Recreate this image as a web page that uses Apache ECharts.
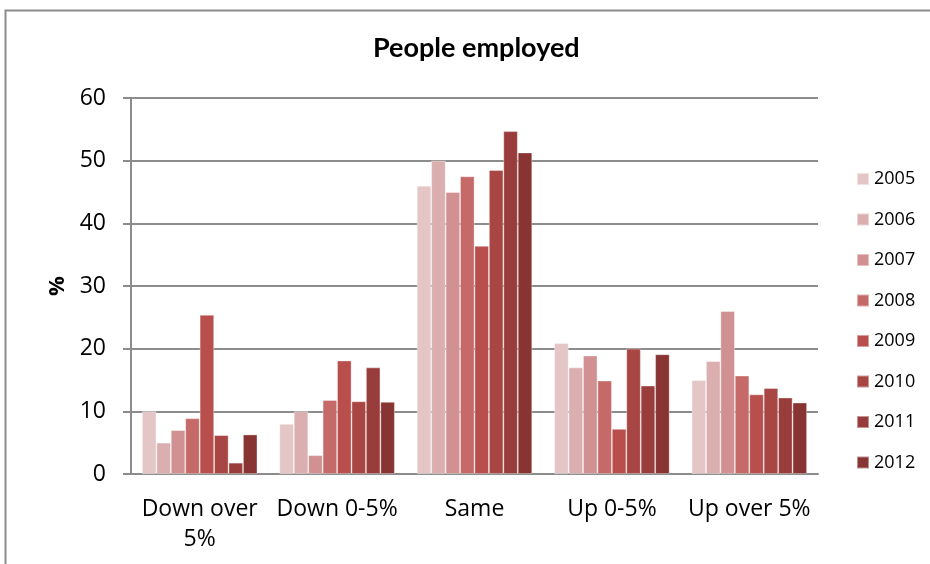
<!DOCTYPE html>
<html>
<head>
<meta charset="utf-8">
<script src="https://cdn.jsdelivr.net/npm/echarts@6/dist/echarts.min.js"></script>
<style>
  html, body { margin: 0; padding: 0; background: #fff; }
  #chart { width: 930px; height: 564px; }
</style>
</head>
<body>
<div id="chart"></div>
<script>
// Change categories on the x axis
const categories = ['Down over\n5%', 'Down 0-5%', 'Same', 'Up 0-5%', 'Up over 5%'];

// Share of respondents (%) per year
const y2005 = [10, 8, 46, 20.9, 15];
const y2006 = [5, 10, 50, 17, 18];
const y2007 = [7, 3, 45, 18.9, 26];
const y2008 = [8.9, 11.8, 47.5, 14.9, 15.7];
const y2009 = [25.4, 18.1, 36.4, 7.2, 12.7];
const y2010 = [6.2, 11.6, 48.5, 20, 13.7];
const y2011 = [1.8, 17, 54.7, 14.1, 12.2];
const y2012 = [6.3, 11.5, 51.3, 19.1, 11.4];

const years = ['2005', '2006', '2007', '2008', '2009', '2010', '2011', '2012'];
const yearValues = [y2005, y2006, y2007, y2008, y2009, y2010, y2011, y2012];
const yearColors = ['#e4c6c7', '#dbaeaf', '#d19192', '#c56a69', '#b94f4c', '#a84644', '#993d3c', '#883433'];

const font = '"Open Sans", "Noto Sans", sans-serif';

const chart = echarts.init(document.getElementById('chart'), null, { renderer: 'canvas' });

chart.setOption({
  animation: false,
  backgroundColor: '#ffffff',
  textStyle: { fontFamily: font, color: '#000' },
  title: {
    text: 'People employed',
    left: 368,
    top: 30,
    textStyle: { fontFamily: 'Lato', fontWeight: 'bold', fontSize: 27, color: '#000' }
  },
  graphic: [{
    type: 'rect',
    shape: { x: 5.5, y: 10.5, width: 1000, height: 1000 },
    style: { fill: null, stroke: '#8c8c8c', lineWidth: 2 },
    silent: true
  }],
  legend: {
    orient: 'vertical',
    left: 851,
    top: 165,
    itemWidth: 12,
    itemHeight: 12,
    itemGap: 22.5,
    icon: 'rect',
    textStyle: { fontFamily: font, fontSize: 18, color: '#000', padding: [0, 0, 0, 0] },
    data: years
  },
  grid: { left: 131, right: 112, top: 98, bottom: 90 },
  xAxis: {
    type: 'category',
    data: categories,
    axisLine: { lineStyle: { color: '#8c8c8c', width: 2 } },
    axisTick: { show: false },
    axisLabel: { interval: 0, fontFamily: font, fontSize: 23, color: '#000', margin: 20, lineHeight: 30 }
  },
  yAxis: {
    type: 'value',
    min: 0,
    max: 60,
    interval: 10,
    name: '%',
    nameLocation: 'middle',
    nameGap: 62,
    nameRotate: 90,
    nameTextStyle: { fontFamily: font, fontWeight: 'bold', fontSize: 22, color: '#000' },
    axisLine: { show: true, lineStyle: { color: '#8c8c8c', width: 2 } },
    axisTick: { show: true, inside: false, length: 8, lineStyle: { color: '#8c8c8c', width: 2 } },
    axisLabel: { fontFamily: font, fontSize: 23, color: '#000', margin: 25 },
    splitLine: { lineStyle: { color: '#8c8c8c', width: 2 } }
  },
  series: years.map((y, i) => ({
    name: y,
    type: 'bar',
    data: yearValues[i],
    barGap: '0%',
    barCategoryGap: '16%',
    itemStyle: { color: yearColors[i], borderColor: 'rgba(255,255,255,0.45)', borderWidth: 0.8 }
  }))
});
</script>
</body>
</html>
